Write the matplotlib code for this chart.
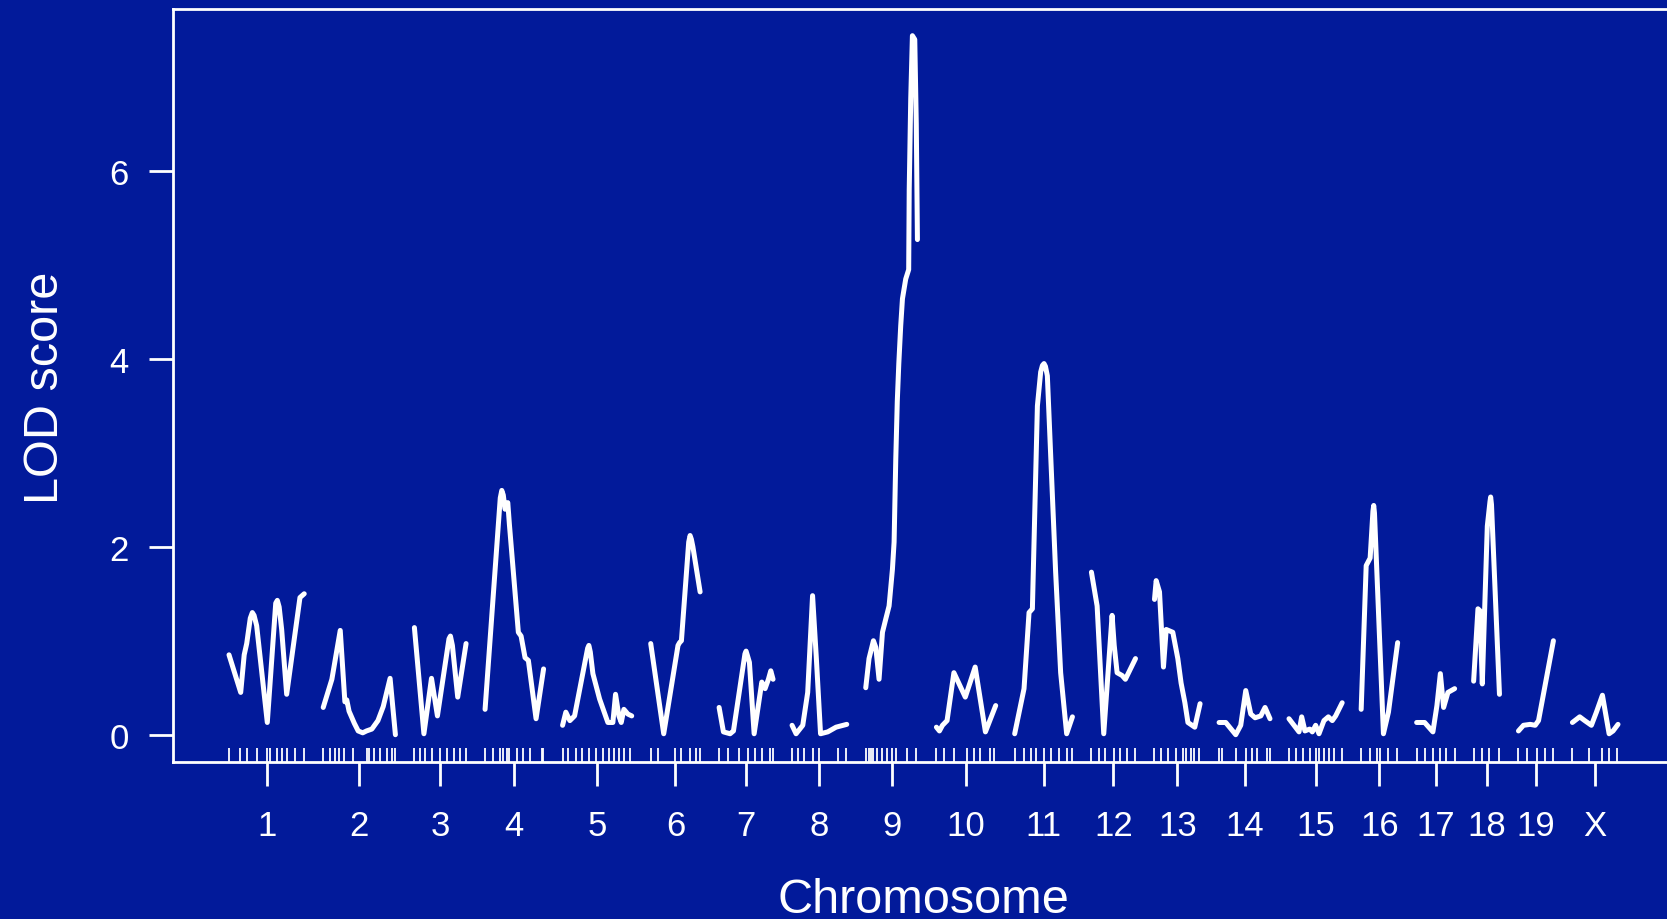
import numpy as np
import matplotlib.pyplot as plt

plt.rcParams['font.family'] = ['Liberation Sans', 'DejaVu Sans']

bg = '#021a9a'
fg = 'white'

chroms = ['1', '2', '3', '4', '5', '6', '7', '8', '9', '10',
          '11', '12', '13', '14', '15', '16', '17', '18', '19', 'X']
chrom_len = [99, 95, 68, 77, 91, 65, 71, 72, 68, 78,
             76, 58, 60, 67, 70, 48, 50, 34, 46, 60]
gap = 25

# LOD curve, position (cM) within each chromosome
lod_pos = {
    '1': [0, 5, 15.4, 20, 23.3, 28, 30.7, 33, 36.4, 50.4, 61.5, 63.6, 66, 69.3, 75.9, 93.4, 99],
    '2': [0, 11.4, 22.4, 28.5, 31, 34, 41, 46, 52, 57, 64, 72, 79, 88, 95],
    '3': [0, 12.5, 22.5, 30.3, 45.5, 47.4, 50, 57, 68],
    '4': [0, 20, 22, 24, 26.3, 29.9, 32, 43.8, 47.4, 52.6, 57, 67.1, 77],
    '5': [0, 4.3, 9.6, 15.8, 33, 34.6, 36.5, 39.9, 48.7, 59.6, 66.2, 69.7, 74.1, 77.2, 80.7, 85.9, 91],
    '6': [0, 17.1, 35.9, 38, 40.4, 50, 51.8, 53.5, 55.5, 65],
    '7': [0, 5.7, 14.5, 18.9, 34, 35.5, 37, 39.9, 46.1, 56.2, 60.5, 64.9, 68, 71],
    '8': [0, 5.3, 14.1, 20.6, 27, 32, 37.5, 47, 57.9, 72],
    '9': [0, 4.3, 10.1, 13.2, 17.5, 22, 26.3, 30.7, 35.1, 37.3, 39.5, 41.5, 43.5, 46,
          48.3, 52.6, 56.5, 57.2, 59.2, 61.4, 64.5, 66.5, 68],
    '10': [0, 4, 8, 14, 23, 38, 51, 64.5, 78],
    '11': [0, 12.3, 18.9, 23.3, 29.9, 34.2, 36.5, 38.6, 40.5, 43, 47.4, 53.9, 60.5, 68.4, 76],
    '12': [0, 7.5, 16.2, 27.2, 30, 33.8, 40.4, 44.7, 58],
    '13': [0, 2.2, 6.6, 11.8, 15.4, 24.1, 30.7, 35, 40, 44, 53, 60],
    '14': [0, 8.8, 21.9, 28.5, 35.1, 41.7, 47.4, 54.9, 60.5, 67],
    '15': [0, 6.6, 13.2, 16.7, 21, 27.2, 30.7, 35.1, 39.5, 46, 51.8, 57, 61.4, 70],
    '16': [0, 6.6, 11.8, 15.5, 16.5, 17.5, 29.3, 35.9, 48],
    '17': [0, 3.9, 10.5, 21.4, 26.7, 31.2, 35.5, 41.2, 50],
    '18': [0, 5.7, 8.3, 11.4, 18, 21.5, 22.4, 23.5, 34],
    '19': [0, 6.6, 15.4, 22, 26.4, 46],
    'X': [0, 9.6, 16.2, 25, 31.6, 39.5, 48.3, 53.5, 60],
}

lod_val = {
    '1': [0.85, 0.72, 0.45, 0.85, 0.97, 1.24, 1.30, 1.27, 1.16, 0.13, 1.40, 1.43, 1.36, 1.12, 0.43, 1.46, 1.50],
    '2': [0.29, 0.59, 1.11, 0.35, 0.37, 0.25, 0.12, 0.04, 0.02, 0.04, 0.06, 0.15, 0.30, 0.60, 0.0],
    '3': [1.14, 0.01, 0.60, 0.20, 1.02, 1.05, 0.95, 0.40, 0.97],
    '4': [0.27, 2.52, 2.60, 2.55, 2.40, 2.47, 2.24, 1.09, 1.05, 0.82, 0.79, 0.17, 0.70],
    '5': [0.10, 0.24, 0.15, 0.20, 0.92, 0.95, 0.88, 0.65, 0.38, 0.13, 0.13, 0.43, 0.20, 0.13, 0.27, 0.22, 0.20],
    '6': [0.97, 0.01, 0.95, 0.98, 1.00, 2.05, 2.12, 2.08, 2.00, 1.52],
    '7': [0.29, 0.03, 0.01, 0.04, 0.86, 0.89, 0.85, 0.77, 0.01, 0.56, 0.49, 0.59, 0.68, 0.59],
    '8': [0.10, 0.01, 0.10, 0.45, 1.48, 0.81, 0.01, 0.03, 0.08, 0.11],
    '9': [0.50, 0.81, 1.00, 0.93, 0.59, 1.09, 1.23, 1.37, 1.76, 2.05, 2.93, 3.55, 3.95, 4.35,
          4.64, 4.85, 4.95, 5.80, 6.77, 7.44, 7.40, 6.50, 5.27],
    '10': [0.08, 0.04, 0.10, 0.15, 0.66, 0.40, 0.72, 0.03, 0.31],
    '11': [0.01, 0.49, 1.30, 1.34, 3.50, 3.86, 3.93, 3.95, 3.92, 3.82, 2.97, 1.73, 0.66, 0.01, 0.19],
    '12': [1.73, 1.37, 0.01, 1.27, 0.95, 0.66, 0.63, 0.59, 0.81],
    '13': [1.44, 1.64, 1.52, 0.72, 1.12, 1.09, 0.81, 0.55, 0.34, 0.13, 0.08, 0.33],
    '14': [0.13, 0.13, 0.00, 0.10, 0.47, 0.22, 0.18, 0.20, 0.29, 0.17],
    '15': [0.17, 0.10, 0.03, 0.19, 0.04, 0.06, 0.03, 0.10, 0.01, 0.15, 0.19, 0.15, 0.20, 0.34],
    '16': [0.27, 1.80, 1.88, 2.38, 2.44, 2.36, 0.01, 0.24, 0.98],
    '17': [0.13, 0.13, 0.13, 0.03, 0.31, 0.65, 0.29, 0.45, 0.49],
    '18': [0.57, 1.34, 1.32, 0.54, 2.22, 2.48, 2.53, 2.45, 0.43],
    '19': [0.04, 0.10, 0.11, 0.10, 0.15, 1.00],
    'X': [0.13, 0.19, 0.15, 0.10, 0.24, 0.42, 0.01, 0.04, 0.11],
}

markers = {
    '1': [0, 14.5, 23.3, 37.2, 49.6, 53.9, 62.8, 69.3, 75.9, 86.8, 98.7],
    '2': [0, 9.2, 15.8, 21.4, 27.6, 39.1, 57.5, 60.9, 67.1, 75, 83.8, 90.4, 94.7],
    '3': [0, 7.9, 14.5, 23.3, 34.2, 43, 51.7, 60.5, 68],
    '4': [0, 10.9, 19.7, 24.1, 28.6, 32, 41.7, 50.4, 59.2, 74.6, 76.7],
    '5': [0, 6.6, 17.6, 25.5, 35.1, 43.9, 52.6, 61.4, 68, 74.6, 81.2, 88.8],
    '6': [0, 9.6, 31.6, 40.4, 51.3, 60.1, 64.5],
    '7': [0, 12.2, 26.7, 38.5, 47.4, 56.2, 67.1, 70.7],
    '8': [0, 7.5, 16.2, 27.2, 35.9, 60.1, 71.1],
    '9': [0, 4.3, 7.5, 10.1, 15.4, 21.9, 28.5, 35.1, 39.5, 54.9, 65.8],
    '10': [0, 9.6, 22.8, 40.4, 49.1, 57.9, 71.1, 75.4],
    '11': [0, 12.2, 21.1, 27.6, 38.6, 47.4, 58.3, 69.3, 75],
    '12': [0, 9.6, 18.4, 29.3, 38.2, 47, 57.9],
    '13': [0, 8.8, 17.5, 28.6, 37.2, 41.7, 48.3, 52.6, 59.2],
    '14': [0, 4.3, 22, 35.1, 43.8, 50.4, 63.6, 66.7],
    '15': [0, 8.8, 18.4, 27.2, 35.1, 39.5, 46, 52.6, 59.2, 69.3],
    '16': [0, 11.8, 20.6, 25, 35.9, 46.9],
    '17': [0, 10.5, 21.4, 30.3, 39.1, 50],
    '18': [0, 11, 19.7, 32.9],
    '19': [0, 11, 24.2, 35.1, 46],
    'X': [0, 22, 38.7, 48.3, 59.2],
}

fig = plt.figure(figsize=(16.67, 9.2), dpi=100, facecolor=bg)
ax = fig.add_axes([173 / 1667, 157 / 920, 1501 / 1667, 753 / 920], facecolor=bg)

starts = np.cumsum([0] + [l + gap for l in chrom_len[:-1]])
mids = []
for c, s, l in zip(chroms, starts, chrom_len):
    x = s + np.array(lod_pos[c])
    ax.plot(x, lod_val[c], color=fg, lw=3.6, solid_capstyle='round',
            solid_joinstyle='round')
    ax.vlines(s + np.array(markers[c]), -0.30, -0.145, color=fg, lw=1.3)
    mids.append(s + l / 2)

total = starts[-1] + chrom_len[-1]
ax.set_xlim(-73.7, total + 73.7)
ax.set_ylim(-0.2906, 7.724)

ax.set_xticks(mids)
ax.set_xticklabels(chroms)
ax.set_yticks([0, 2, 4, 6])
ax.tick_params(colors=fg, labelcolor=fg, labelsize=25, length=17, width=2)
ax.tick_params(axis='x', pad=17)
ax.tick_params(axis='y', pad=15)

for side in ['left', 'bottom', 'top']:
    ax.spines[side].set_color(fg)
    ax.spines[side].set_linewidth(2)
ax.spines['right'].set_visible(False)

fig.text(923 / 1667, 1 - 913 / 920, 'Chromosome', color=fg, fontsize=35,
         ha='center', va='baseline')
fig.text(45 / 1667, 1 - 388 / 920, 'LOD score', color=fg, fontsize=35,
         ha='center', va='center', rotation=90)

fig.savefig('out.png', dpi=100, facecolor=bg)
